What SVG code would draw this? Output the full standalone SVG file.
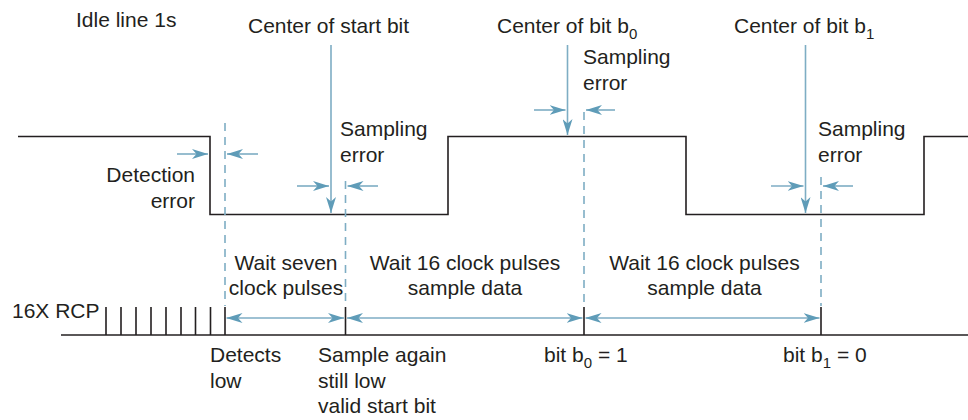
<svg xmlns="http://www.w3.org/2000/svg" width="968" height="420" viewBox="0 0 968 420">
<defs>
<marker id="ah" viewBox="0 0 16 10" refX="16" refY="5" markerWidth="16" markerHeight="10" markerUnits="userSpaceOnUse" orient="auto-start-reverse">
<path d="M0,0 L16,5 L0,10 L4.5,5 Z" fill="#5f9cb8"/>
</marker>
</defs>
<style>
text{font-family:"Liberation Sans",Arial,Helvetica,sans-serif;font-size:21px;fill:#231f20}
.sub{font-size:15px}
.blk{stroke:#231f20;stroke-width:1.6;fill:none}
.dash{stroke:#7eadc4;stroke-width:1.6;fill:none;stroke-dasharray:8 6}
.arr{stroke:#7eadc4;stroke-width:1.6;fill:none;marker-end:url(#ah)}
.darr{stroke:#7eadc4;stroke-width:1.6;fill:none;marker-start:url(#ah);marker-end:url(#ah)}
</style>
<rect width="968" height="420" fill="#fff"/>

<g id="waveform">
<path class="blk" d="M18,136.5 H210 V214.5 H448 V136.5 H686 V214.5 H924 V136.5 H968"/>
</g>

<g id="clock">
<path class="blk" d="M61,335 H968"/>
<path class="blk" d="M106,307 V335 M121,307 V335 M136,307 V335 M151,307 V335 M166,307 V335 M181,307 V335 M195.5,307 V335 M210.5,307 V335 M225,307 V335 M345.5,307 V335 M584,307 V335 M821,307 V335"/>
</g>

<g id="connectors">
<path class="dash" d="M225,123 V306"/>
<path class="dash" d="M345.5,181 V306"/>
<path class="dash" d="M584,112 V306"/>
<path class="dash" d="M821,177 V306"/>
<path class="arr" d="M331,45 V213"/>
<path class="arr" d="M567.5,45 V135"/>
<path class="arr" d="M805.5,45 V213"/>
<path class="arr" d="M177,154 H208"/>
<path class="arr" d="M258,154 H227"/>
<path class="arr" d="M297,186 H329"/>
<path class="arr" d="M378,186 H347.5"/>
<path class="arr" d="M534,110 H565.5"/>
<path class="arr" d="M615,110 H586"/>
<path class="arr" d="M771,186 H803.5"/>
<path class="arr" d="M853,186 H823"/>
<path class="darr" d="M226.5,318 H344"/>
<path class="darr" d="M347,318 H582.5"/>
<path class="darr" d="M585.5,318 H819.5"/>
</g>

<g id="idle-label"><text x="76" y="27">Idle line 1s</text></g>
<g id="center-start"><text x="248" y="33">Center of start bit</text></g>
<g id="center-b0"><text x="497" y="33">Center of bit b<tspan class="sub" dy="6">0</tspan></text></g>
<g id="center-b1"><text x="734" y="33">Center of bit b<tspan class="sub" dy="6">1</tspan></text></g>

<g id="sampling-b0"><text x="583" y="64">Sampling</text><text x="583" y="90">error</text></g>
<g id="sampling-start"><text x="340" y="136">Sampling</text><text x="340" y="162">error</text></g>
<g id="sampling-b1"><text x="818" y="136">Sampling</text><text x="818" y="162">error</text></g>
<g id="detection"><text x="195" y="182" text-anchor="end">Detection</text><text x="195" y="208" text-anchor="end">error</text></g>

<g id="wait7"><text x="286" y="270" text-anchor="middle">Wait seven</text><text x="286" y="295" text-anchor="middle">clock pulses</text></g>
<g id="wait16a"><text x="465" y="270" text-anchor="middle">Wait 16 clock pulses</text><text x="465" y="295" text-anchor="middle">sample data</text></g>
<g id="wait16b"><text x="704.5" y="270" text-anchor="middle">Wait 16 clock pulses</text><text x="704.5" y="295" text-anchor="middle">sample data</text></g>

<g id="rcp"><text x="12" y="318">16X RCP</text></g>
<g id="detects"><text x="210" y="362">Detects</text><text x="210" y="388">low</text></g>
<g id="sample-again"><text x="318" y="362">Sample again</text><text x="318" y="388">still low</text><text x="318" y="413">valid start bit</text></g>
<g id="bit-b0"><text x="544" y="362">bit b<tspan class="sub" dy="6">0</tspan><tspan dy="-6"> = 1</tspan></text></g>
<g id="bit-b1"><text x="783" y="362">bit b<tspan class="sub" dy="6">1</tspan><tspan dy="-6"> = 0</tspan></text></g>
</svg>
